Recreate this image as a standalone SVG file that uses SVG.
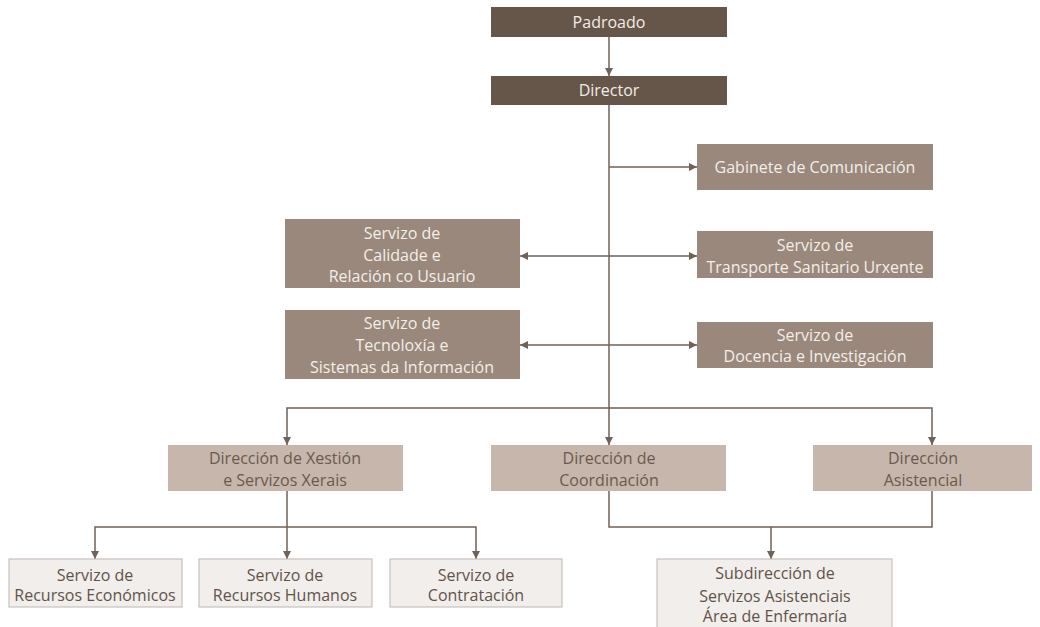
<svg xmlns="http://www.w3.org/2000/svg" width="1040" height="627" viewBox="0 0 1040 627">
<style>
text{font-family:"Open Sans","Noto Sans","Liberation Sans",sans-serif;text-anchor:middle;font-size:16px}
.d rect{fill:#66564a}
.d text{fill:#f2ece6}
.m rect{fill:#9a887c}
.m text{fill:#f4eee8}
.l rect{fill:#c6b6ab}
.l text{fill:#6a5a50}
.w rect{fill:#f1eeeb;stroke:#c9c1bb;stroke-width:1.2}
.w text{fill:#62534a}
.c path{fill:none;stroke:#6e6259;stroke-width:1.5}
</style>
<defs>
<marker id="a" viewBox="0 0 10 10" refX="10" refY="5" markerWidth="8" markerHeight="8" markerUnits="userSpaceOnUse" orient="auto-start-reverse">
<path d="M0,0 L10,5 L0,10 Z" fill="#6e6259"/>
</marker>
</defs>
<rect width="1040" height="627" fill="#ffffff"/>
<g class="c" id="connectors">
<path d="M609,37 V76" marker-end="url(#a)"/>
<path d="M609,105 V408"/>
<path d="M609,167 H697" marker-end="url(#a)"/>
<path d="M520,256 H697" marker-start="url(#a)" marker-end="url(#a)"/>
<path d="M520,345 H697" marker-start="url(#a)" marker-end="url(#a)"/>
<path d="M287,445 V408 H932 V445" marker-start="url(#a)" marker-end="url(#a)"/>
<path d="M609,408 V445" marker-end="url(#a)"/>
<path d="M287,491 V559" marker-end="url(#a)"/>
<path d="M95,559 V527 H476 V559" marker-start="url(#a)" marker-end="url(#a)"/>
<path d="M609,491 V527 H932 V491"/>
<path d="M771,527 V559" marker-end="url(#a)"/>
</g>
<g id="padroado" class="d"><rect x="491" y="7" width="236" height="30"/><text x="609" y="28">Padroado</text></g>
<g id="director" class="d"><rect x="491" y="76" width="236" height="29"/><text x="609" y="96">Director</text></g>
<g id="gabinete" class="m"><rect x="697" y="144" width="236" height="46"/><text x="815" y="173">Gabinete de Comunicación</text></g>
<g id="calidade" class="m"><rect x="285" y="219" width="235" height="69"/><text x="402" y="239">Servizo de</text><text x="402" y="261">Calidade e</text><text x="402" y="282">Relación co Usuario</text></g>
<g id="transporte" class="m"><rect x="697" y="231" width="236" height="47"/><text x="815" y="251">Servizo de</text><text x="815" y="273">Transporte Sanitario Urxente</text></g>
<g id="tecnoloxia" class="m"><rect x="285" y="310" width="235" height="69"/><text x="402" y="329">Servizo de</text><text x="402" y="351">Tecnoloxía e</text><text x="402" y="373">Sistemas da Información</text></g>
<g id="docencia" class="m"><rect x="697" y="322" width="236" height="46"/><text x="815" y="341">Servizo de</text><text x="815" y="362">Docencia e Investigación</text></g>
<g id="xestion" class="l"><rect x="168" y="445" width="235" height="46"/><text x="285" y="464">Dirección de Xestión</text><text x="285" y="486">e Servizos Xerais</text></g>
<g id="coordinacion" class="l"><rect x="491" y="445" width="235" height="46"/><text x="609" y="464">Dirección de</text><text x="609" y="486">Coordinación</text></g>
<g id="asistencial" class="l"><rect x="813" y="445" width="219" height="46"/><text x="923" y="464">Dirección</text><text x="923" y="486">Asistencial</text></g>
<g id="economicos" class="w"><rect x="9" y="559" width="173" height="48"/><text x="95" y="581">Servizo de</text><text x="95" y="601">Recursos Económicos</text></g>
<g id="humanos" class="w"><rect x="199" y="559" width="173" height="48"/><text x="285" y="581">Servizo de</text><text x="285" y="601">Recursos Humanos</text></g>
<g id="contratacion" class="w"><rect x="390" y="559" width="172" height="48"/><text x="476" y="581">Servizo de</text><text x="476" y="601">Contratación</text></g>
<g id="subdireccion" class="w"><rect x="657" y="559" width="235" height="72"/><text x="775" y="579">Subdirección de</text><text x="775" y="602">Servizos Asistenciais</text><text x="775" y="622">Área de Enfermaría</text></g>
</svg>
